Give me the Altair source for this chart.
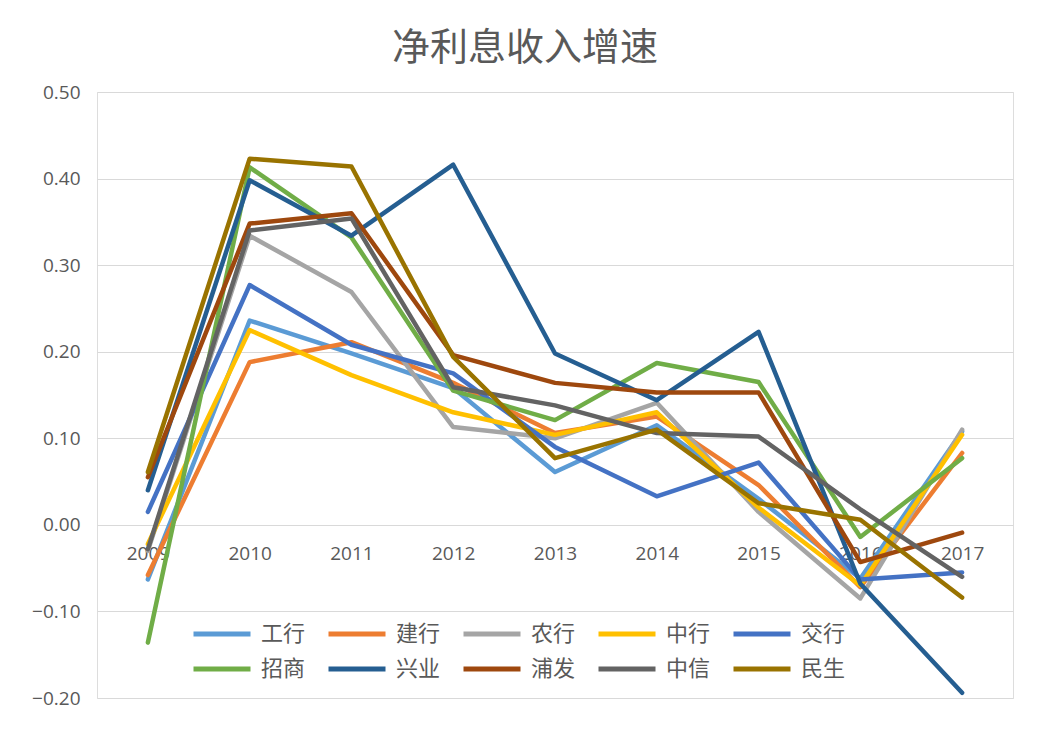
import altair as alt
import pandas as pd

years = ["2009", "2010", "2011", "2012", "2013", "2014", "2015", "2016", "2017"]
banks = ["工行", "建行", "农行", "中行", "交行", "招商", "兴业", "浦发", "中信", "民生"]
colors = ["#5B9BD5", "#ED7D31", "#A5A5A5", "#FFC000", "#4472C4",
          "#70AD47", "#255E91", "#9E480E", "#636363", "#997300"]

icbc = [-0.063, 0.236, 0.198, 0.158, 0.061, 0.115, 0.030, -0.062, 0.108]
ccb = [-0.058, 0.188, 0.211, 0.164, 0.106, 0.125, 0.046, -0.072, 0.083]
abc = [-0.030, 0.334, 0.269, 0.113, 0.100, 0.141, 0.015, -0.085, 0.110]
boc = [-0.022, 0.225, 0.173, 0.130, 0.104, 0.130, 0.020, -0.070, 0.104]
bocom = [0.015, 0.277, 0.208, 0.175, 0.090, 0.033, 0.072, -0.063, -0.055]
cmb = [-0.136, 0.413, 0.332, 0.155, 0.121, 0.187, 0.165, -0.014, 0.077]
cib = [0.040, 0.398, 0.334, 0.416, 0.198, 0.144, 0.223, -0.068, -0.194]
spdb = [0.055, 0.348, 0.360, 0.196, 0.164, 0.153, 0.153, -0.043, -0.009]
citic = [-0.028, 0.340, 0.354, 0.159, 0.138, 0.106, 0.102, 0.018, -0.060]
cmbc = [0.061, 0.423, 0.414, 0.194, 0.077, 0.110, 0.025, 0.006, -0.084]

series = [icbc, ccb, abc, boc, bocom, cmb, cib, spdb, citic, cmbc]

rows = []
for i, (name, vals) in enumerate(zip(banks, series)):
    for y, v in zip(years, vals):
        rows.append({"bank": name, "year": y, "value": v, "order": i})
df = pd.DataFrame(rows)

W, H = 916, 606
font = "Noto Sans CJK SC"
numfont = "Open Sans"
txt = "#595959"

chart = alt.Chart(df).mark_line(
    strokeWidth=4.5, strokeJoin="round", strokeCap="round"
).encode(
    x=alt.X("year:N", sort=years, title=None,
            axis=alt.Axis(orient="bottom", offset=-H * 0.2 / 0.7, domain=False,
                          ticks=False, labelAngle=0, labelPadding=20, grid=False,
                          labelFontSize=19, labelColor=txt, labelFont=numfont)),
    y=alt.Y("value:Q", title=None,
            scale=alt.Scale(domain=[-0.2, 0.5], nice=False, zero=False),
            axis=alt.Axis(values=[-0.2, -0.1, 0, 0.1, 0.2, 0.3, 0.4, 0.5],
                          format=".2f", domain=False, ticks=False, labelPadding=17,
                          gridColor="#D9D9D9", gridWidth=1,
                          labelFontSize=19, labelColor=txt, labelFont=numfont)),
    color=alt.Color("bank:N", sort=banks, title=None,
                    scale=alt.Scale(domain=banks, range=colors),
                    legend=alt.Legend(orient="none", legendX=94, legendY=531,
                                      direction="horizontal", columns=5,
                                      symbolType="stroke", symbolSize=3249,
                                      symbolStrokeWidth=5, labelFontSize=22,
                                      clipHeight=22,
                                      labelOffset=8, columnPadding=20, rowPadding=13,
                                      labelColor=txt, labelFont=font)),
    detail="bank:N",
    order=alt.Order("order:Q"),
).properties(
    width=W, height=H,
    title=alt.TitleParams("净利息收入增速", fontSize=38, font=font, color=txt,
                          fontWeight="normal", anchor="middle", dx=-30, offset=15),
    autosize=alt.AutoSizeParams(type="none"),
    padding={"left": 89, "top": 84, "right": 29, "bottom": 24},
).configure_view(stroke=None).configure(background="white")

chart.save("out.html", embed_options={"renderer": "svg", "actions": False})
